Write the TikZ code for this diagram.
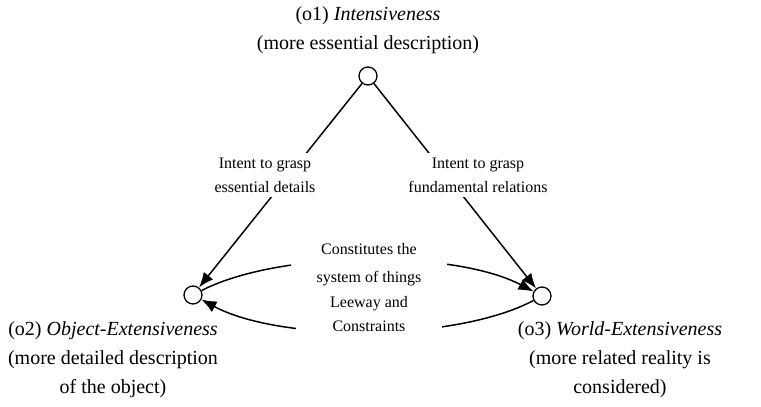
\documentclass[tikz,border=0pt]{standalone}
\usepackage{fontspec}
\setmainfont{Liberation Serif}
\usetikzlibrary{arrows.meta}
\tikzset{
  dot/.style={circle, draw, line width=1.3pt, minimum size=18pt, inner sep=0pt, fill=white},
  conn/.style={line width=1.5pt},
  arr/.style={conn, -{Latex[length=15pt,width=12pt]}},
  mtext/.style={align=center, font=\fontsize{20}{29}\selectfont, inner sep=0pt},
  lbl/.style={align=center, font=\fontsize{16}{24}\selectfont, fill=white, inner xsep=26pt, inner ysep=5pt},
}
\begin{document}
\begin{tikzpicture}[x=1pt,y=-1pt]
\useasboundingbox (0,0) rectangle (761,407);
\node[dot] (o1) at (368,76) {};
\node[dot] (o2) at (193,295) {};
\node[dot] (o3) at (542,296) {};

\node[mtext] (t1) at (368,30) {(o1) \textit{Intensiveness}\\(more essential description)};
\node[mtext] (t2) at (113,360) {(o2) \textit{Object-Extensiveness}\\(more detailed description\\of the object)};
\node[mtext] (t3) at (620,360) {(o3) \textit{World-Extensiveness}\\(more related reality is\\considered)};

\draw[arr] (o1) -- (o2);
\draw[arr] (o1) -- (o3);
\draw[arr] (o2) .. controls (280,250) and (455,250) .. (o3);
\draw[arr] (o3) .. controls (455,342) and (280,342) .. (o2);

\node[lbl, inner xsep=5pt] (l1) at (265,175) {Intent to grasp\\essential details};
\node[lbl, inner xsep=5pt] (l2) at (478,175) {Intent to grasp\\fundamental relations};
\node[lbl, font=\fontsize{16}{28}\selectfont, inner ysep=2pt] (l3) at (369,265) {Constitutes the\\system of things};
\node[lbl, inner xsep=34pt, inner ysep=4pt] (l4) at (369,314) {Leeway and\\Constraints};
\end{tikzpicture}
\end{document}
